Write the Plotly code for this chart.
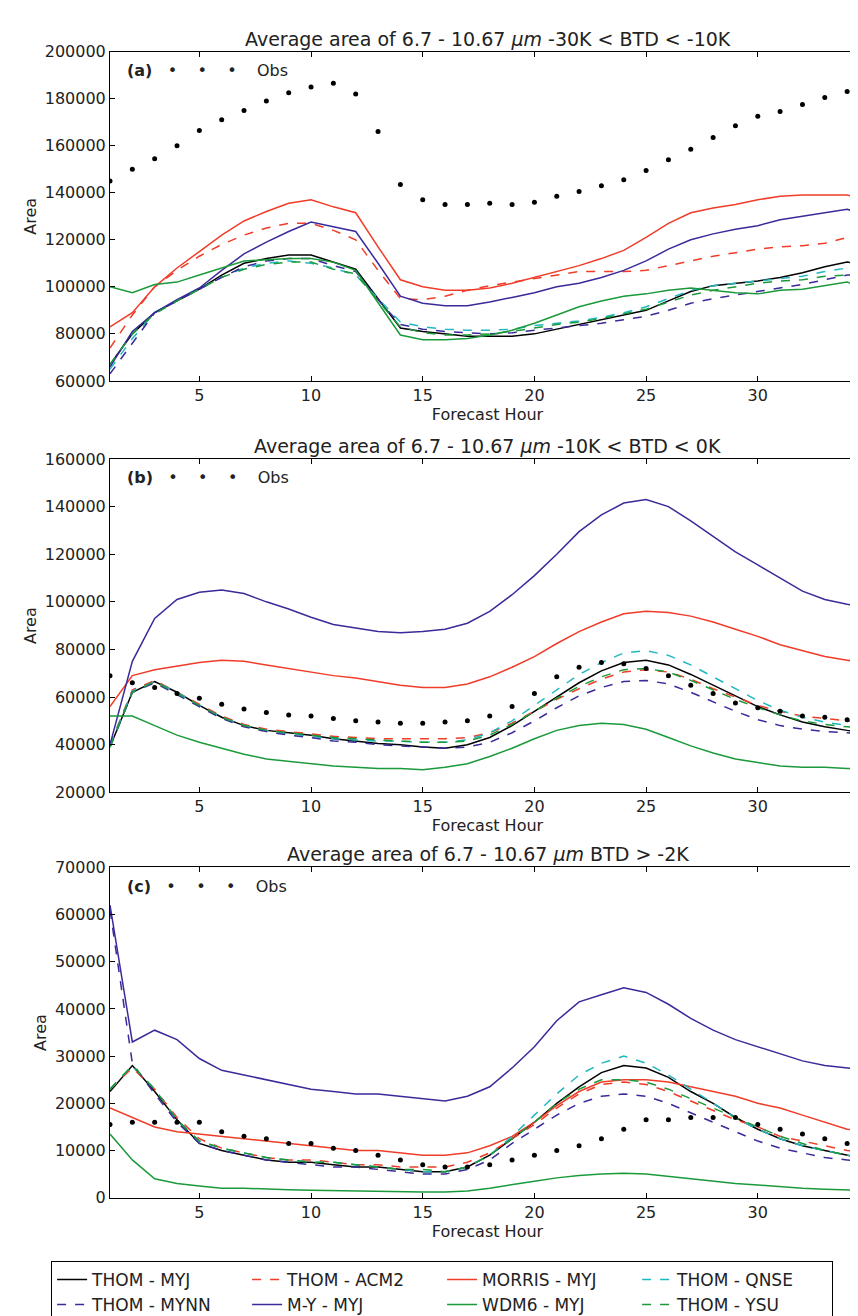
import plotly.graph_objects as go

hours = list(range(1, 37))
obs_hours = list(range(1, 36))

# ---- panel (a): -30K < BTD < -10K
obs_a = [145000, 150000, 154500, 160000, 166500, 171000, 175000, 179000, 182500, 185000, 186500, 182000,
         166000, 143500, 137000, 135000, 135000, 135500, 135000, 136000, 138500, 140500, 143000, 145500,
         149500, 154000, 158500, 163500, 168500, 172500, 174500, 177500, 180500, 183000, 183500]
a_thom_myj = [67000, 80000, 89000, 94000, 99000, 105000, 110000, 112000, 113500, 113500, 110500, 107500, 95000, 82500, 81000, 80000, 79000, 79000, 79000, 80000, 82000, 84000, 86000, 88000, 90000, 94000, 98000, 100500, 101500, 102500, 104000, 106000, 108500, 110500, 109000, 108000]
a_thom_acm2 = [74000, 88000, 100000, 107000, 113000, 118000, 122000, 125000, 127000, 127000, 124000, 120000, 107000, 95000, 94500, 96000, 98500, 100500, 102000, 103500, 105000, 106500, 106500, 106500, 107000, 109000, 111000, 113000, 114500, 116000, 117000, 117500, 118500, 121000, 119500, 119000]
a_morris = [83000, 89000, 100000, 108000, 115000, 122000, 128000, 132000, 135500, 137000, 134000, 131500, 117000, 103000, 100000, 98500, 98500, 99500, 101500, 104000, 106500, 109000, 112000, 115500, 121000, 127000, 131500, 133500, 135000, 137000, 138500, 139000, 139000, 139000, 136500, 134000]
a_qnse = [65000, 78000, 89000, 94000, 99000, 104000, 108000, 110000, 111000, 110000, 108000, 105000, 95000, 85000, 83000, 82000, 81500, 81500, 82000, 83500, 84500, 85500, 87000, 89000, 91500, 95000, 98500, 100500, 101500, 102500, 103500, 104500, 106500, 108000, 108000, 107500]
a_mynn = [63000, 76000, 89000, 94000, 99000, 104000, 108500, 111000, 112000, 112000, 109000, 106500, 94500, 84000, 82000, 81000, 80500, 80000, 80500, 81500, 82500, 83500, 84500, 86000, 87500, 90000, 93000, 95000, 96500, 98000, 99500, 101000, 103000, 105000, 105500, 105000]
a_my = [66000, 81000, 89000, 94500, 99500, 107000, 114000, 119000, 123500, 127500, 125500, 123500, 110000, 96000, 93000, 92000, 92000, 93500, 95500, 97500, 100000, 101500, 104000, 107000, 111000, 116000, 120000, 122500, 124500, 126000, 128500, 130000, 131500, 133000, 130000, 127000]
a_wdm6 = [100000, 97500, 101000, 102000, 105000, 108000, 111000, 111500, 112000, 112000, 110500, 107000, 93000, 79500, 77500, 77500, 78000, 79500, 81500, 84500, 88000, 91500, 94000, 96000, 97000, 98500, 99500, 98500, 97500, 97000, 98500, 99000, 100500, 102000, 99000, 98000]
a_ysu = [67000, 80000, 88500, 94000, 99000, 104000, 107500, 109500, 110500, 110500, 107500, 105500, 94000, 83000, 80500, 79500, 79500, 80000, 81000, 82500, 84000, 85000, 86500, 88500, 90500, 93500, 96500, 98500, 100000, 101500, 102500, 103000, 104500, 105000, 104500, 104000]

# ---- panel (b): -10K < BTD < 0K
obs_b = [69000, 66000, 64000, 61500, 59500, 57000, 55000, 53500, 52500, 52000, 51000, 50000, 49500, 49000, 49000,
         49500, 50000, 52000, 56000, 61500, 68500, 72500, 74500, 74000, 72000, 69000, 65000, 61500, 57500, 55500,
         54000, 52000, 51500, 50500, 50000]
b_thom_myj = [39000, 62000, 66500, 62000, 56500, 51500, 48000, 46000, 45000, 44000, 42500, 41500, 40500, 40000, 39000, 38500, 40000, 43000, 48000, 54000, 60000, 66000, 71000, 74500, 75500, 73500, 69500, 65000, 60500, 56000, 52500, 49500, 47500, 46000, 45000, 44000]
b_thom_acm2 = [40000, 63000, 67000, 62000, 57000, 52000, 48500, 46500, 45500, 44500, 43500, 43000, 42500, 42500, 42500, 42500, 43000, 45000, 49000, 54000, 59000, 63500, 67500, 70500, 71500, 70500, 67500, 63500, 60000, 56500, 54000, 52000, 51000, 50000, 49500, 49000]
b_morris = [56000, 69000, 71500, 73000, 74500, 75500, 75000, 73500, 72000, 70500, 69000, 68000, 66500, 65000, 64000, 64000, 65500, 68500, 72500, 77000, 82500, 87500, 91500, 95000, 96000, 95500, 94000, 91500, 88500, 85500, 82000, 79500, 77000, 75500, 74000, 72000]
b_qnse = [40000, 62500, 66500, 62000, 56500, 51500, 48000, 46000, 44500, 43500, 42500, 42000, 41500, 41500, 41000, 41000, 42000, 45000, 50000, 56500, 63000, 69500, 74500, 78500, 79500, 77500, 73500, 68500, 63500, 58500, 54500, 51500, 49500, 48000, 47000, 46000]
b_mynn = [39000, 62000, 66000, 61000, 56000, 51000, 47500, 45500, 44000, 43000, 41500, 41000, 40000, 39500, 39000, 38500, 39000, 41000, 45000, 50000, 55500, 60500, 64000, 66500, 67000, 65500, 62000, 58000, 54000, 50500, 48000, 46500, 45500, 45000, 44500, 44000]
b_my = [40000, 75000, 93000, 101000, 104000, 105000, 103500, 100000, 97000, 93500, 90500, 89000, 87500, 87000, 87500, 88500, 91000, 96000, 103000, 111000, 120000, 129500, 136500, 141500, 143000, 140000, 134000, 127500, 121000, 115500, 110000, 104500, 101000, 99000, 97500, 96000]
b_wdm6 = [52000, 52000, 48000, 44000, 41000, 38500, 36000, 34000, 33000, 32000, 31000, 30500, 30000, 30000, 29500, 30500, 32000, 35000, 38500, 42500, 46000, 48000, 49000, 48500, 46500, 43000, 39500, 36500, 34000, 32500, 31000, 30500, 30500, 30000, 29500, 29000]
b_ysu = [39000, 62000, 66500, 61500, 56500, 51500, 48000, 46000, 45000, 44000, 43000, 42500, 42000, 41500, 41000, 41000, 41500, 44000, 48500, 54000, 59500, 64500, 68500, 71500, 72000, 70500, 67000, 63000, 59000, 55500, 52500, 50000, 48500, 47500, 46500, 46000]

# ---- panel (c): BTD > -2K
obs_c = [15500, 16000, 16000, 16000, 16000, 14000, 13000, 12500, 11500, 11500, 10500, 10000, 9000, 8000, 7000,
         6500, 6500, 7000, 8000, 9000, 10000, 11000, 12500, 14500, 16500, 16500, 17000, 17000, 17000, 15500,
         14500, 13500, 12500, 11500, 11000]
c_thom_myj = [22500, 28000, 22500, 16500, 11500, 10000, 9000, 8000, 7500, 7500, 7000, 6500, 6500, 6000, 5500, 5500, 6500, 9000, 12500, 16000, 20000, 23500, 26500, 28000, 27500, 25500, 22500, 20000, 17000, 14500, 12500, 11000, 10000, 9000, 8000, 7500]
c_thom_acm2 = [23000, 27500, 23000, 17000, 12500, 10500, 9500, 8500, 8000, 8000, 7500, 7000, 7000, 6500, 6500, 6500, 7500, 9500, 12500, 15500, 19000, 22000, 24000, 24500, 24000, 22500, 20500, 18500, 16500, 15000, 13000, 12000, 11000, 10000, 9500, 9000]
c_morris = [19000, 17000, 15000, 14000, 13500, 13000, 12500, 12000, 11500, 11000, 10500, 10000, 10000, 9500, 9000, 9000, 9500, 11000, 13000, 16000, 19500, 22500, 24500, 25000, 25000, 24500, 23500, 22500, 21500, 20000, 19000, 17500, 16000, 14500, 14000, 13500]
c_qnse = [23000, 28000, 23000, 16500, 12000, 10500, 9500, 8500, 8000, 7500, 7500, 7000, 6500, 6000, 5500, 5500, 6500, 9000, 13000, 17500, 22000, 26000, 28500, 30000, 28500, 26000, 23000, 20000, 17000, 14500, 12500, 11000, 10000, 9000, 8500, 8000]
c_mynn = [61000, 28500, 22000, 16000, 11500, 10000, 9000, 8000, 7500, 7000, 6500, 6500, 6000, 5500, 5000, 5000, 6000, 8000, 11500, 14500, 17500, 20000, 21500, 22000, 21500, 20000, 18000, 16000, 14000, 12000, 10500, 9500, 8500, 8000, 7500, 7000]
c_my = [62000, 33000, 35500, 33500, 29500, 27000, 26000, 25000, 24000, 23000, 22500, 22000, 22000, 21500, 21000, 20500, 21500, 23500, 27500, 32000, 37500, 41500, 43000, 44500, 43500, 41000, 38000, 35500, 33500, 32000, 30500, 29000, 28000, 27500, 27000, 26500]
c_wdm6 = [13500, 8000, 4000, 3000, 2500, 2000, 2000, 1800, 1700, 1600, 1500, 1400, 1300, 1200, 1200, 1200, 1400, 2000, 2800, 3500, 4200, 4700, 5000, 5200, 5000, 4500, 4000, 3500, 3000, 2700, 2300, 2000, 1800, 1600, 1500, 1500]
c_ysu = [23000, 28000, 23000, 16500, 12000, 10500, 9500, 8500, 8000, 7500, 7500, 7000, 6500, 6000, 6000, 5500, 6500, 9000, 12500, 16000, 20000, 23000, 25000, 25000, 24500, 23000, 21000, 19000, 17000, 15000, 13000, 11500, 10000, 9000, 8500, 8000]

names = ["THOM - MYJ", "THOM - ACM2", "MORRIS - MYJ", "THOM - QNSE",
         "THOM - MYNN", "M-Y - MYJ", "WDM6 - MYJ", "THOM - YSU"]
colors = ["#000000", "#f03c28", "#f03c28", "#20b8c0", "#3a2a9a", "#3a2a9a", "#1a9a3a", "#1a9a3a"]
dashes = ["solid", "dash", "solid", "dash", "dash", "solid", "solid", "dash"]

panels = [
    ("(a)", "Average area of 6.7 - 10.67 <i>μm</i> -30K < BTD < -10K", obs_a,
     [a_thom_myj, a_thom_acm2, a_morris, a_qnse, a_mynn, a_my, a_wdm6, a_ysu], [60000, 200000], 20000),
    ("(b)", "Average area of 6.7 - 10.67 <i>μm</i> -10K < BTD < 0K", obs_b,
     [b_thom_myj, b_thom_acm2, b_morris, b_qnse, b_mynn, b_my, b_wdm6, b_ysu], [20000, 160000], 20000),
    ("(c)", "Average area of 6.7 - 10.67 <i>μm</i> BTD > -2K", obs_c,
     [c_thom_myj, c_thom_acm2, c_morris, c_qnse, c_mynn, c_my, c_wdm6, c_ysu], [0, 70000], 10000),
]

B = 60
P = 1316 - B
domains = [((P - 368) / P, (P - 35) / P), ((P - 784) / P, (P - 447) / P), ((P - 1194) / P, (P - 860) / P)]

fig = go.Figure()
font = dict(family="DejaVu Sans", size=15, color="#222")
layout = dict(width=858, height=1316, margin=dict(l=102, r=0, t=0, b=B),
              plot_bgcolor="white", paper_bgcolor="white", font=font, showlegend=True)
annotations = []

for i, (tag, title, obs, series, yr, dt) in enumerate(panels):
    n = "" if i == 0 else str(i + 1)
    xa, ya = "x" + n, "y" + n
    for j, s in enumerate(series):
        fig.add_trace(go.Scatter(x=hours, y=s, mode="lines", name=names[j], xaxis=xa, yaxis=ya,
                                 line=dict(color=colors[j], dash=dashes[j], width=1.5),
                                 showlegend=(i == 0)))
    fig.add_trace(go.Scatter(x=obs_hours, y=obs, mode="markers", name="Obs", xaxis=xa, yaxis=ya,
                             marker=dict(color="black", size=5), showlegend=False))
    axstyle = dict(showgrid=False, zeroline=False, showline=True, linecolor="black", mirror="allticks",
                   ticks="inside", ticklen=5, tickcolor="black", tickfont=dict(size=16))
    layout["xaxis" + n] = dict(axstyle, range=[1, 34.8], tickvals=[5, 10, 15, 20, 25, 30, 35],
                               anchor=ya, title=dict(text="Forecast Hour", standoff=2, font=dict(size=16)))
    layout["yaxis" + n] = dict(axstyle, range=yr, dtick=dt, domain=domains[i], anchor=xa, tickformat="d",
                               title=dict(text="Area", standoff=4, font=dict(size=16)))
    top = domains[i][1]
    annotations.append(dict(xref="paper", yref="paper", x=0.5, y=top, yanchor="bottom", xanchor="center",
                            text=title, showarrow=False, font=dict(size=19)))
    annotations.append(dict(xref="paper", yref="paper", x=0.02, y=top - 0.006, yanchor="top", xanchor="left",
                            text="<b>" + tag + "</b>   •    •    •    Obs", showarrow=False, font=dict(size=16)))

layout["annotations"] = annotations
layout["legend"] = dict(orientation="h", x=-0.078, y=-0.0015, xanchor="left", yanchor="top",
                        entrywidth=150, bordercolor="black", borderwidth=1, font=dict(size=17),
                        traceorder="normal", tracegroupgap=0)
fig.update_layout(**layout)
fig.write_html("out.html")
